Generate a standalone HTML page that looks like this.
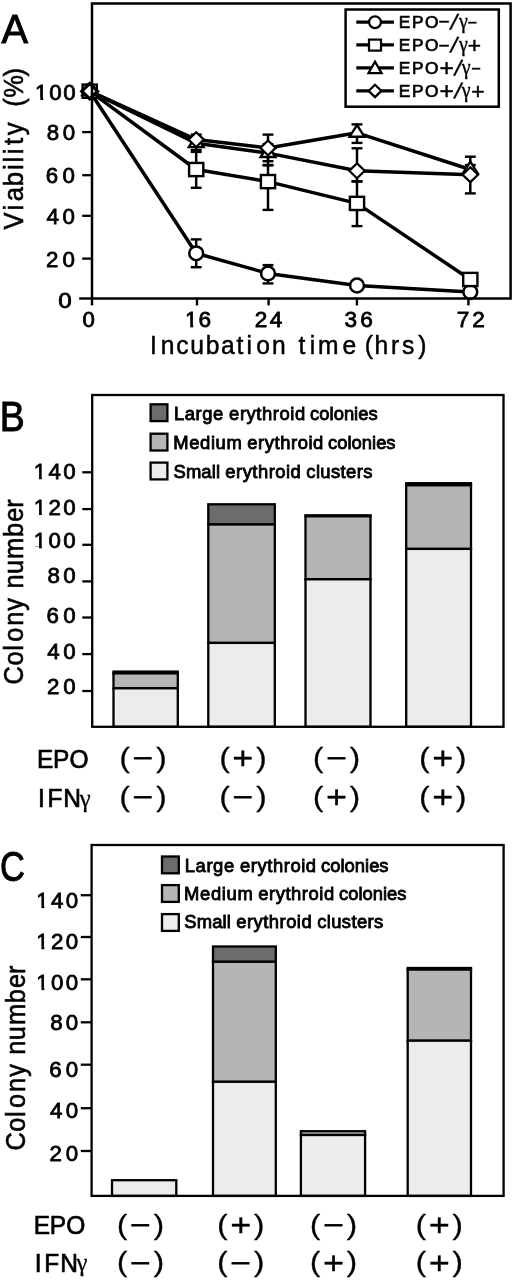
<!DOCTYPE html>
<html lang="en"><head><meta charset="utf-8"><title>Figure</title>
<style>
html,body{margin:0;padding:0;background:#fff;}
body{width:514px;height:1280px;overflow:hidden;}
svg{display:block;font-family:"Liberation Sans", sans-serif;fill:#000;font-kerning:none;}
text{white-space:pre;}
</style></head><body>
<svg width="514" height="1280" viewBox="0 0 514 1280">
<rect x="0" y="0" width="514" height="1280" fill="#fff" stroke="none"/>
<defs><clipPath id="c22_3"><rect x="1.09" y="-16.33" width="6.97" height="14.16"/><rect x="5.34" y="-2.23" width="2.72" height="2.61"/><rect x="12.69" y="-16.33" width="300" height="18.51"/></clipPath><clipPath id="c22_6"><rect x="1.10" y="-16.55" width="7.06" height="14.35"/><rect x="5.41" y="-2.26" width="2.76" height="2.65"/><rect x="12.86" y="-16.55" width="300" height="18.76"/></clipPath></defs>
<g id="panelA">
<line x1="82.2" y1="91.3" x2="92.0" y2="91.3" stroke="#000" stroke-width="2.3"/>
<line x1="82.2" y1="132.1" x2="92.0" y2="132.1" stroke="#000" stroke-width="2.3"/>
<line x1="82.2" y1="175.2" x2="92.0" y2="175.2" stroke="#000" stroke-width="2.3"/>
<line x1="82.2" y1="215.8" x2="92.0" y2="215.8" stroke="#000" stroke-width="2.3"/>
<line x1="82.2" y1="258.6" x2="92.0" y2="258.6" stroke="#000" stroke-width="2.3"/>
<polyline points="89.7,91.2 196.2,253.3 268.0,273.4 357.0,285.5 470.3,292.1" fill="none" stroke="#000" stroke-width="3.5" stroke-linejoin="round"/>
<polyline points="89.7,91.2 196.2,169.5 268.0,181.6 357.0,203.4 470.3,279.5" fill="none" stroke="#000" stroke-width="3.5" stroke-linejoin="round"/>
<polyline points="89.7,91.2 196.2,139.6 268.0,147.9 357.0,132.8 470.3,169.5" fill="none" stroke="#000" stroke-width="3.5" stroke-linejoin="round"/>
<polyline points="89.7,91.2 196.2,143.2 268.0,153.1 357.0,170.8 470.3,174.7" fill="none" stroke="#000" stroke-width="3.5" stroke-linejoin="round"/>
<line x1="196.2" y1="239.4" x2="196.2" y2="267.2" stroke="#000" stroke-width="2.5"/>
<line x1="190.75" y1="239.4" x2="201.64999999999998" y2="239.4" stroke="#000" stroke-width="2.4"/>
<line x1="190.75" y1="267.2" x2="201.64999999999998" y2="267.2" stroke="#000" stroke-width="2.4"/>
<line x1="268.0" y1="265.1" x2="268.0" y2="283.4" stroke="#000" stroke-width="2.5"/>
<line x1="262.55" y1="265.1" x2="273.45" y2="265.1" stroke="#000" stroke-width="2.4"/>
<line x1="262.55" y1="283.4" x2="273.45" y2="283.4" stroke="#000" stroke-width="2.4"/>
<line x1="196.2" y1="151.9" x2="196.2" y2="187.8" stroke="#000" stroke-width="2.5"/>
<line x1="190.75" y1="151.9" x2="201.64999999999998" y2="151.9" stroke="#000" stroke-width="2.4"/>
<line x1="190.75" y1="187.8" x2="201.64999999999998" y2="187.8" stroke="#000" stroke-width="2.4"/>
<line x1="268.0" y1="165.0" x2="268.0" y2="209.9" stroke="#000" stroke-width="2.5"/>
<line x1="262.55" y1="165.0" x2="273.45" y2="165.0" stroke="#000" stroke-width="2.4"/>
<line x1="262.55" y1="209.9" x2="273.45" y2="209.9" stroke="#000" stroke-width="2.4"/>
<line x1="357.0" y1="181.6" x2="357.0" y2="226.1" stroke="#000" stroke-width="2.5"/>
<line x1="351.55" y1="181.6" x2="362.45" y2="181.6" stroke="#000" stroke-width="2.4"/>
<line x1="351.55" y1="226.1" x2="362.45" y2="226.1" stroke="#000" stroke-width="2.4"/>
<line x1="196.2" y1="142.7" x2="196.2" y2="150.0" stroke="#000" stroke-width="2.5"/>
<line x1="190.75" y1="142.7" x2="201.64999999999998" y2="142.7" stroke="#000" stroke-width="2.4"/>
<line x1="190.75" y1="150.0" x2="201.64999999999998" y2="150.0" stroke="#000" stroke-width="2.4"/>
<line x1="268.0" y1="144.2" x2="268.0" y2="165.4" stroke="#000" stroke-width="2.5"/>
<line x1="262.55" y1="144.2" x2="273.45" y2="144.2" stroke="#000" stroke-width="2.4"/>
<line x1="262.55" y1="165.4" x2="273.45" y2="165.4" stroke="#000" stroke-width="2.4"/>
<line x1="357.0" y1="124.4" x2="357.0" y2="142.9" stroke="#000" stroke-width="2.5"/>
<line x1="351.55" y1="124.4" x2="362.45" y2="124.4" stroke="#000" stroke-width="2.4"/>
<line x1="351.55" y1="142.9" x2="362.45" y2="142.9" stroke="#000" stroke-width="2.4"/>
<line x1="470.3" y1="165.0" x2="470.3" y2="176.0" stroke="#000" stroke-width="2.5"/>
<line x1="464.85" y1="165.0" x2="475.75" y2="165.0" stroke="#000" stroke-width="2.4"/>
<line x1="464.85" y1="176.0" x2="475.75" y2="176.0" stroke="#000" stroke-width="2.4"/>
<line x1="196.2" y1="134.6" x2="196.2" y2="145.0" stroke="#000" stroke-width="2.5"/>
<line x1="190.75" y1="134.6" x2="201.64999999999998" y2="134.6" stroke="#000" stroke-width="2.4"/>
<line x1="190.75" y1="145.0" x2="201.64999999999998" y2="145.0" stroke="#000" stroke-width="2.4"/>
<line x1="268.0" y1="134.6" x2="268.0" y2="161.2" stroke="#000" stroke-width="2.5"/>
<line x1="262.55" y1="134.6" x2="273.45" y2="134.6" stroke="#000" stroke-width="2.4"/>
<line x1="262.55" y1="161.2" x2="273.45" y2="161.2" stroke="#000" stroke-width="2.4"/>
<line x1="357.0" y1="148.3" x2="357.0" y2="181.2" stroke="#000" stroke-width="2.5"/>
<line x1="351.55" y1="148.3" x2="362.45" y2="148.3" stroke="#000" stroke-width="2.4"/>
<line x1="351.55" y1="181.2" x2="362.45" y2="181.2" stroke="#000" stroke-width="2.4"/>
<line x1="470.3" y1="156.7" x2="470.3" y2="193.4" stroke="#000" stroke-width="2.5"/>
<line x1="464.85" y1="156.7" x2="475.75" y2="156.7" stroke="#000" stroke-width="2.4"/>
<line x1="464.85" y1="193.4" x2="475.75" y2="193.4" stroke="#000" stroke-width="2.4"/>
<circle cx="89.7" cy="91.2" r="6.9" fill="#fff" stroke="#000" stroke-width="2.5"/>
<circle cx="196.2" cy="253.3" r="6.9" fill="#fff" stroke="#000" stroke-width="2.5"/>
<circle cx="268.0" cy="273.4" r="6.9" fill="#fff" stroke="#000" stroke-width="2.5"/>
<circle cx="357.0" cy="285.5" r="6.9" fill="#fff" stroke="#000" stroke-width="2.5"/>
<circle cx="470.3" cy="292.1" r="6.9" fill="#fff" stroke="#000" stroke-width="2.5"/>
<rect x="82.60" y="84.60" width="14.2" height="13.2" fill="#fff" stroke="#000" stroke-width="2.4"/>
<rect x="189.10" y="162.94" width="14.2" height="13.2" fill="#fff" stroke="#000" stroke-width="2.4"/>
<rect x="260.90" y="174.99" width="14.2" height="13.2" fill="#fff" stroke="#000" stroke-width="2.4"/>
<rect x="349.90" y="196.81" width="14.2" height="13.2" fill="#fff" stroke="#000" stroke-width="2.4"/>
<rect x="463.20" y="272.87" width="14.2" height="13.2" fill="#fff" stroke="#000" stroke-width="2.4"/>
<path d="M89.7 83.4 L97.1 95.1 L82.3 95.1 Z" fill="#fff" stroke="#000" stroke-width="2.4"/>
<path d="M196.2 135.3 L203.6 147.1 L188.8 147.1 Z" fill="#fff" stroke="#000" stroke-width="2.4"/>
<path d="M268.0 145.3 L275.4 157.0 L260.6 157.0 Z" fill="#fff" stroke="#000" stroke-width="2.4"/>
<path d="M357.0 125.0 L364.4 136.7 L349.6 136.7 Z" fill="#fff" stroke="#000" stroke-width="2.4"/>
<path d="M470.3 161.7 L477.7 173.4 L462.9 173.4 Z" fill="#fff" stroke="#000" stroke-width="2.4"/>
<path d="M89.7 83.8 L97.4 91.2 L89.7 98.6 L82.0 91.2 Z" fill="#fff" stroke="#000" stroke-width="2.2"/>
<path d="M196.2 132.2 L203.9 139.6 L196.2 147.0 L188.5 139.6 Z" fill="#fff" stroke="#000" stroke-width="2.2"/>
<path d="M268.0 140.5 L275.7 147.9 L268.0 155.3 L260.3 147.9 Z" fill="#fff" stroke="#000" stroke-width="2.2"/>
<path d="M357.0 163.4 L364.7 170.8 L357.0 178.2 L349.3 170.8 Z" fill="#fff" stroke="#000" stroke-width="2.2"/>
<path d="M470.3 167.3 L478.0 174.7 L470.3 182.1 L462.6 174.7 Z" fill="#fff" stroke="#000" stroke-width="2.2"/>
<path d="M89.7 83.6 L97.6 91.2 L89.7 98.8 L81.8 91.2 Z" fill="#fff" stroke="#000" stroke-width="3.2"/>
<rect x="92.00" y="3.50" width="418.60" height="295.00" fill="none" stroke="#000" stroke-width="2.5"/>
<text transform="translate(35.10,99.5) scale(1.000,1)" font-size="22.3" letter-spacing="1.63" clip-path="url(#c22_3)" stroke="#000" stroke-width="0.8">100</text>
<text transform="translate(46.63,140.1) scale(1.000,1)" font-size="22.3" letter-spacing="3.84" stroke="#000" stroke-width="0.8">80</text>
<text transform="translate(45.87,183.2) scale(1.000,1)" font-size="22.3" letter-spacing="4.20" stroke="#000" stroke-width="0.8">60</text>
<text transform="translate(46.49,223.7) scale(1.000,1)" font-size="22.3" letter-spacing="3.58" stroke="#000" stroke-width="0.8">40</text>
<text transform="translate(45.88,266.5) scale(1.000,1)" font-size="22.3" letter-spacing="4.19" stroke="#000" stroke-width="0.8">20</text>
<text transform="translate(58.35,307.7) scale(1.088,1)" font-size="22.3" letter-spacing="0.00" stroke="#000" stroke-width="0.8">0</text>
<line x1="79.2" y1="298.5" x2="92.0" y2="298.5" stroke="#000" stroke-width="2.4"/>
<line x1="92.0" y1="298.5" x2="92.0" y2="305.4" stroke="#000" stroke-width="2.4"/>
<line x1="197.0" y1="298.5" x2="197.0" y2="305.4" stroke="#000" stroke-width="2.4"/>
<line x1="268.6" y1="298.5" x2="268.6" y2="305.4" stroke="#000" stroke-width="2.4"/>
<line x1="356.9" y1="298.5" x2="356.9" y2="305.4" stroke="#000" stroke-width="2.4"/>
<line x1="468.4" y1="298.5" x2="468.4" y2="305.4" stroke="#000" stroke-width="2.4"/>
<text transform="translate(82.43,327.3) scale(0.981,1)" font-size="22.6" letter-spacing="0.00" stroke="#000" stroke-width="0.8">0</text>
<text transform="translate(184.98,327.3) scale(1.000,1)" font-size="22.6" letter-spacing="0.88" clip-path="url(#c22_6)" stroke="#000" stroke-width="0.8">16</text>
<text transform="translate(254.66,327.3) scale(1.000,1)" font-size="22.6" letter-spacing="2.46" stroke="#000" stroke-width="0.8">24</text>
<text transform="translate(344.54,327.3) scale(1.000,1)" font-size="22.6" letter-spacing="3.12" stroke="#000" stroke-width="0.8">36</text>
<text transform="translate(456.84,327.3) scale(1.000,1)" font-size="22.6" letter-spacing="2.96" stroke="#000" stroke-width="0.8">72</text>
<text transform="translate(151.80,353.7) scale(0.930,1)" font-size="26.5" x="-2.01 9.75 26.32 41.40 57.97 74.54 91.11 101.79 112.33 129.35 143.37 157.67 169.97 178.67 205.15 219.71 228.93 239.35 257.13 269.00 286.44" y="0" stroke="#000" stroke-width="0.5">Incubation time (hrs)</text>
<text transform="translate(22.8,230.20) rotate(-90) scale(0.930,1)" font-size="27.5" x="0.67 21.25 31.12 47.31 64.69 72.85 81.74 91.50 102.10 117.34 132.71 142.51 165.39" y="0" stroke="#000" stroke-width="0.6">Viability (%)</text>
<text transform="translate(1.52,42.80) scale(0.995,1.028)" font-size="40" stroke="#000" stroke-width="0.9">A</text>
<rect x="345.60" y="9.50" width="153.20" height="97.20" fill="#fff" stroke="#000" stroke-width="2.5"/>
<line x1="356.3" y1="22.2" x2="393.9" y2="22.2" stroke="#000" stroke-width="3.3"/>
<circle cx="375" cy="22.2" r="5.9" fill="#fff" stroke="#000" stroke-width="2.2"/>
<text font-size="17.3" stroke="#000" stroke-width="0.7" x="398.78 411.88 424.97" y="28.0">EPO<tspan font-size="19.0" x="438.46" y="28.40" stroke-width="0.5">−</tspan><tspan font-size="23.4" rotate="12" x="449.20" y="29.20" stroke-width="0.35">/</tspan><tspan font-family="'Liberation Serif', serif" font-size="20.0" x="459.03" y="27.74" stroke-width="0.35">γ</tspan><tspan font-size="16.2" x="467.60" y="28.40" stroke-width="0.5">−</tspan></text>
<line x1="356.3" y1="44.9" x2="393.9" y2="44.9" stroke="#000" stroke-width="3.3"/>
<rect x="369" y="39.6" width="12" height="11" fill="#fff" stroke="#000" stroke-width="2.2"/>
<text font-size="17.3" stroke="#000" stroke-width="0.7" x="398.78 411.88 424.97" y="51.1">EPO<tspan font-size="19.0" x="438.46" y="51.50" stroke-width="0.5">−</tspan><tspan font-size="23.4" rotate="12" x="449.20" y="52.30" stroke-width="0.35">/</tspan><tspan font-family="'Liberation Serif', serif" font-size="20.0" x="459.03" y="50.84" stroke-width="0.35">γ</tspan><tspan font-size="22.8" x="467.69" y="53.20" stroke-width="0.45">+</tspan></text>
<line x1="356.3" y1="67.8" x2="393.9" y2="67.8" stroke="#000" stroke-width="3.3"/>
<path d="M375 61.6 L381.6 73.2 L368.4 73.2 Z" fill="#fff" stroke="#000" stroke-width="2.2"/>
<text font-size="17.3" stroke="#000" stroke-width="0.7" x="398.78 411.88 424.97" y="74.0">EPO<tspan font-size="24.5" x="439.40" y="76.10" stroke-width="0.45">+</tspan><tspan font-size="23.4" rotate="12" x="453.20" y="75.20" stroke-width="0.35">/</tspan><tspan font-family="'Liberation Serif', serif" font-size="20.0" x="461.63" y="73.74" stroke-width="0.35">γ</tspan><tspan font-size="16.2" x="471.20" y="74.40" stroke-width="0.5">−</tspan></text>
<line x1="356.3" y1="90.9" x2="393.9" y2="90.9" stroke="#000" stroke-width="3.3"/>
<path d="M375 84.7 L381.4 90.9 L375 97.1 L368.6 90.9 Z" fill="#fff" stroke="#000" stroke-width="2.2"/>
<text font-size="17.3" stroke="#000" stroke-width="0.7" x="398.78 411.88 424.97" y="96.8">EPO<tspan font-size="24.5" x="439.40" y="98.90" stroke-width="0.45">+</tspan><tspan font-size="23.4" rotate="12" x="453.20" y="98.00" stroke-width="0.35">/</tspan><tspan font-family="'Liberation Serif', serif" font-size="20.0" x="461.63" y="96.54" stroke-width="0.35">γ</tspan><tspan font-size="22.8" x="471.29" y="98.90" stroke-width="0.45">+</tspan></text>
</g>
<g id="panelB">
<rect x="113.50" y="671.60" width="64.30" height="1.80" fill="#000" stroke="#000" stroke-width="2.3"/>
<rect x="113.50" y="673.40" width="64.30" height="14.90" fill="#b5b5b5" stroke="#000" stroke-width="2.3"/>
<rect x="113.50" y="688.30" width="64.30" height="38.50" fill="#ececec" stroke="#000" stroke-width="2.3"/>
<rect x="208.30" y="504.30" width="66.50" height="20.20" fill="#6c6c6c" stroke="#000" stroke-width="2.3"/>
<rect x="208.30" y="524.50" width="66.50" height="118.40" fill="#b5b5b5" stroke="#000" stroke-width="2.3"/>
<rect x="208.30" y="642.90" width="66.50" height="83.90" fill="#ececec" stroke="#000" stroke-width="2.3"/>
<rect x="305.50" y="515.30" width="65.00" height="1.00" fill="#000" stroke="#000" stroke-width="2.3"/>
<rect x="305.50" y="516.30" width="65.00" height="63.00" fill="#b5b5b5" stroke="#000" stroke-width="2.3"/>
<rect x="305.50" y="579.30" width="65.00" height="147.50" fill="#ececec" stroke="#000" stroke-width="2.3"/>
<rect x="406.20" y="483.20" width="64.80" height="2.10" fill="#000" stroke="#000" stroke-width="2.3"/>
<rect x="406.20" y="485.30" width="64.80" height="63.60" fill="#b5b5b5" stroke="#000" stroke-width="2.3"/>
<rect x="406.20" y="548.90" width="64.80" height="177.90" fill="#ececec" stroke="#000" stroke-width="2.3"/>
<rect x="92.20" y="395.00" width="411.30" height="331.80" fill="none" stroke="#000" stroke-width="2.3"/>
<line x1="82.3" y1="472.3" x2="92.2" y2="472.3" stroke="#000" stroke-width="2.3"/>
<line x1="82.3" y1="509.1" x2="92.2" y2="509.1" stroke="#000" stroke-width="2.3"/>
<line x1="82.3" y1="544.8" x2="92.2" y2="544.8" stroke="#000" stroke-width="2.3"/>
<line x1="82.3" y1="581.4" x2="92.2" y2="581.4" stroke="#000" stroke-width="2.3"/>
<line x1="82.3" y1="617.5" x2="92.2" y2="617.5" stroke="#000" stroke-width="2.3"/>
<line x1="82.3" y1="654.1" x2="92.2" y2="654.1" stroke="#000" stroke-width="2.3"/>
<line x1="82.3" y1="691.0" x2="92.2" y2="691.0" stroke="#000" stroke-width="2.3"/>
<text transform="translate(33.70,479.2) scale(1.000,1)" font-size="22.3" letter-spacing="2.33" clip-path="url(#c22_3)" stroke="#000" stroke-width="0.8">140</text>
<text transform="translate(33.70,514.7) scale(1.000,1)" font-size="22.3" letter-spacing="2.33" clip-path="url(#c22_3)" stroke="#000" stroke-width="0.8">120</text>
<text transform="translate(33.70,548.4) scale(1.000,1)" font-size="22.3" letter-spacing="2.33" clip-path="url(#c22_3)" stroke="#000" stroke-width="0.8">100</text>
<text transform="translate(47.43,583.1) scale(1.000,1)" font-size="22.3" letter-spacing="3.34" stroke="#000" stroke-width="0.8">80</text>
<text transform="translate(46.57,623.4) scale(1.000,1)" font-size="22.3" letter-spacing="4.20" stroke="#000" stroke-width="0.8">60</text>
<text transform="translate(47.19,658.8) scale(1.000,1)" font-size="22.3" letter-spacing="3.58" stroke="#000" stroke-width="0.8">40</text>
<text transform="translate(46.98,694.3) scale(1.000,1)" font-size="22.3" letter-spacing="3.79" stroke="#000" stroke-width="0.8">20</text>
<rect x="150.60" y="404.30" width="16.80" height="16.80" fill="#6c6c6c" stroke="#000" stroke-width="2.3"/>
<text transform="translate(175.40,420.3) scale(1.000,1)" font-size="18.4" x="-1.51 9.29 20.09 26.78 37.58 48.00 53.72 64.51 71.20 80.96 86.63 97.42 104.11 114.90 119.55 129.60 134.72 143.92 154.16 158.26 168.49 178.73 182.83 193.06" y="0" stroke="#000" stroke-width="0.85">Large erythroid colonies</text>
<rect x="150.60" y="433.70" width="16.80" height="16.80" fill="#b5b5b5" stroke="#000" stroke-width="2.3"/>
<text transform="translate(174.70,449.2) scale(1.000,1)" font-size="18.4" x="-1.51 14.45 25.32 36.19 40.92 51.79 66.90 72.62 83.40 90.07 99.82 105.48 116.26 122.94 133.72 138.35 148.40 153.42 162.61 172.83 176.91 187.14 197.36 201.44 211.66" y="0" stroke="#000" stroke-width="0.85">Medium erythroid colonies</text>
<rect x="150.60" y="462.60" width="16.80" height="16.80" fill="#ececec" stroke="#000" stroke-width="2.3"/>
<text transform="translate(174.30,477.9) scale(1.000,1)" font-size="18.4" x="-0.84 11.58 27.04 37.42 41.64 45.50 51.02 61.74 68.35 78.03 83.63 94.35 100.96 111.68 116.25 126.30 132.02 141.60 146.06 156.68 166.26 171.75 182.36 188.86" y="0" stroke="#000" stroke-width="0.85">Small erythroid clusters</text>
<text transform="translate(39.50,767.9) scale(0.950,1)" font-size="25.8" x="-2.63 14.23 31.45" y="0" stroke="#000" stroke-width="0.7">EPO</text>
<text transform="translate(39.80,807.4) scale(0.950,1)" font-size="25.8" x="-1.95 8.00 24.78" y="0" stroke="#000" stroke-width="0.7">IFN<tspan font-family="'Liberation Serif', serif" font-size="26.0" x="42.05" y="-0.04" stroke-width="0.3">γ</tspan></text>
<text transform="translate(121.40,766.83) scale(1.13,1)" font-size="27.4" stroke="#000" stroke-width="0.35" x="-1.70" y="0">(<tspan font-size="32.0" x="9.67" y="2.26" stroke-width="0.25">−</tspan><tspan x="30.80" y="0">)</tspan></text>
<text transform="translate(221.40,766.83) scale(1.13,1)" font-size="27.4" stroke="#000" stroke-width="0.35" x="-1.70" y="0">(<tspan font-size="32.0" x="9.69" y="2.26" stroke-width="0.25">+</tspan><tspan x="30.80" y="0">)</tspan></text>
<text transform="translate(315.00,766.83) scale(1.13,1)" font-size="27.4" stroke="#000" stroke-width="0.35" x="-1.70" y="0">(<tspan font-size="32.0" x="9.67" y="2.26" stroke-width="0.25">−</tspan><tspan x="30.80" y="0">)</tspan></text>
<text transform="translate(421.20,766.83) scale(1.13,1)" font-size="27.4" stroke="#000" stroke-width="0.35" x="-1.70" y="0">(<tspan font-size="32.0" x="9.69" y="2.26" stroke-width="0.25">+</tspan><tspan x="30.80" y="0">)</tspan></text>
<text transform="translate(121.40,805.83) scale(1.13,1)" font-size="27.4" stroke="#000" stroke-width="0.35" x="-1.70" y="0">(<tspan font-size="32.0" x="9.67" y="2.26" stroke-width="0.25">−</tspan><tspan x="30.80" y="0">)</tspan></text>
<text transform="translate(221.40,805.83) scale(1.13,1)" font-size="27.4" stroke="#000" stroke-width="0.35" x="-1.70" y="0">(<tspan font-size="32.0" x="9.67" y="2.26" stroke-width="0.25">−</tspan><tspan x="30.80" y="0">)</tspan></text>
<text transform="translate(315.00,805.83) scale(1.13,1)" font-size="27.4" stroke="#000" stroke-width="0.35" x="-1.70" y="0">(<tspan font-size="32.0" x="9.69" y="2.26" stroke-width="0.25">+</tspan><tspan x="30.80" y="0">)</tspan></text>
<text transform="translate(421.20,805.83) scale(1.13,1)" font-size="27.4" stroke="#000" stroke-width="0.35" x="-1.70" y="0">(<tspan font-size="32.0" x="9.69" y="2.26" stroke-width="0.25">+</tspan><tspan x="30.80" y="0">)</tspan></text>
<text transform="translate(22.8,683.10) rotate(-90) scale(0.920,1)" font-size="27.5" x="-1.41 19.20 35.04 44.85 62.22 78.77 93.72 102.82 118.57 135.01 158.84 175.31 190.50" y="0" stroke="#000" stroke-width="0.6">Colony number</text>
<text transform="translate(-0.17,430.70) scale(0.912,1.017)" font-size="41" stroke="#000" stroke-width="0.9">B</text>
</g>
<g id="panelC">
<rect x="112.00" y="1180.20" width="64.30" height="15.70" fill="#ececec" stroke="#000" stroke-width="2.3"/>
<rect x="213.00" y="946.50" width="62.80" height="15.30" fill="#6c6c6c" stroke="#000" stroke-width="2.3"/>
<rect x="213.00" y="961.80" width="62.80" height="120.00" fill="#b5b5b5" stroke="#000" stroke-width="2.3"/>
<rect x="213.00" y="1081.80" width="62.80" height="114.10" fill="#ececec" stroke="#000" stroke-width="2.3"/>
<rect x="300.90" y="1131.20" width="64.20" height="3.80" fill="#b5b5b5" stroke="#000" stroke-width="2.3"/>
<rect x="300.90" y="1135.00" width="64.20" height="60.90" fill="#ececec" stroke="#000" stroke-width="2.3"/>
<rect x="407.70" y="968.00" width="63.30" height="1.60" fill="#000" stroke="#000" stroke-width="2.3"/>
<rect x="407.70" y="969.60" width="63.30" height="71.10" fill="#b5b5b5" stroke="#000" stroke-width="2.3"/>
<rect x="407.70" y="1040.70" width="63.30" height="155.20" fill="#ececec" stroke="#000" stroke-width="2.3"/>
<rect x="91.60" y="845.00" width="412.00" height="350.90" fill="none" stroke="#000" stroke-width="2.3"/>
<line x1="80.8" y1="895.2" x2="91.6" y2="895.2" stroke="#000" stroke-width="2.3"/>
<line x1="80.8" y1="937.0" x2="91.6" y2="937.0" stroke="#000" stroke-width="2.3"/>
<line x1="80.8" y1="979.3" x2="91.6" y2="979.3" stroke="#000" stroke-width="2.3"/>
<line x1="80.8" y1="1022.3" x2="91.6" y2="1022.3" stroke="#000" stroke-width="2.3"/>
<line x1="80.8" y1="1064.7" x2="91.6" y2="1064.7" stroke="#000" stroke-width="2.3"/>
<line x1="80.8" y1="1108.2" x2="91.6" y2="1108.2" stroke="#000" stroke-width="2.3"/>
<line x1="80.8" y1="1151.0" x2="91.6" y2="1151.0" stroke="#000" stroke-width="2.3"/>
<text transform="translate(36.20,907.9) scale(1.000,1)" font-size="22.3" letter-spacing="2.43" clip-path="url(#c22_3)" stroke="#000" stroke-width="0.8">140</text>
<text transform="translate(36.20,949.0) scale(1.000,1)" font-size="22.3" letter-spacing="2.43" clip-path="url(#c22_3)" stroke="#000" stroke-width="0.8">120</text>
<text transform="translate(36.20,989.8) scale(1.000,1)" font-size="22.3" letter-spacing="2.43" clip-path="url(#c22_3)" stroke="#000" stroke-width="0.8">100</text>
<text transform="translate(50.13,1030.4) scale(1.000,1)" font-size="22.3" letter-spacing="3.34" stroke="#000" stroke-width="0.8">80</text>
<text transform="translate(49.27,1076.6) scale(1.000,1)" font-size="22.3" letter-spacing="4.20" stroke="#000" stroke-width="0.8">60</text>
<text transform="translate(49.89,1118.1) scale(1.000,1)" font-size="22.3" letter-spacing="3.58" stroke="#000" stroke-width="0.8">40</text>
<text transform="translate(49.58,1160.6) scale(1.000,1)" font-size="22.3" letter-spacing="3.89" stroke="#000" stroke-width="0.8">20</text>
<rect x="162.00" y="856.50" width="16.80" height="16.80" fill="#6c6c6c" stroke="#000" stroke-width="2.3"/>
<text transform="translate(186.30,871.9) scale(1.000,1)" font-size="18.4" x="-1.51 9.29 20.09 26.78 37.58 48.00 53.72 64.51 71.20 80.96 86.63 97.42 104.11 114.90 119.55 129.60 134.72 143.92 154.16 158.26 168.49 178.73 182.83 193.06" y="0" stroke="#000" stroke-width="0.85">Large erythroid colonies</text>
<rect x="162.00" y="885.10" width="16.80" height="16.80" fill="#b5b5b5" stroke="#000" stroke-width="2.3"/>
<text transform="translate(185.60,899.8) scale(1.000,1)" font-size="18.4" x="-1.51 14.45 25.32 36.19 40.92 51.79 66.90 72.62 83.40 90.07 99.82 105.48 116.26 122.94 133.72 138.35 148.40 153.42 162.61 172.83 176.91 187.14 197.36 201.44 211.66" y="0" stroke="#000" stroke-width="0.85">Medium erythroid colonies</text>
<rect x="162.00" y="914.10" width="16.80" height="16.80" fill="#ececec" stroke="#000" stroke-width="2.3"/>
<text transform="translate(185.20,928.4) scale(1.000,1)" font-size="18.4" x="-0.84 11.58 27.04 37.42 41.64 45.50 51.02 61.74 68.35 78.03 83.63 94.35 100.96 111.68 116.25 126.30 132.02 141.60 146.06 156.68 166.26 171.75 182.36 188.86" y="0" stroke="#000" stroke-width="0.85">Small erythroid clusters</text>
<text transform="translate(36.30,1233.8) scale(0.950,1)" font-size="25.8" x="-2.63 14.23 31.45" y="0" stroke="#000" stroke-width="0.7">EPO</text>
<text transform="translate(36.60,1271.5) scale(0.950,1)" font-size="25.8" x="-1.95 8.00 24.78" y="0" stroke="#000" stroke-width="0.7">IFN<tspan font-family="'Liberation Serif', serif" font-size="26.0" x="42.05" y="-0.04" stroke-width="0.3">γ</tspan></text>
<text transform="translate(118.90,1234.08) scale(1.13,1)" font-size="27.4" stroke="#000" stroke-width="0.35" x="-1.70" y="0">(<tspan font-size="32.0" x="9.67" y="2.26" stroke-width="0.25">−</tspan><tspan x="30.80" y="0">)</tspan></text>
<text transform="translate(219.20,1234.08) scale(1.13,1)" font-size="27.4" stroke="#000" stroke-width="0.35" x="-1.70" y="0">(<tspan font-size="32.0" x="9.69" y="2.26" stroke-width="0.25">+</tspan><tspan x="30.80" y="0">)</tspan></text>
<text transform="translate(312.00,1234.08) scale(1.13,1)" font-size="27.4" stroke="#000" stroke-width="0.35" x="-1.70" y="0">(<tspan font-size="32.0" x="9.67" y="2.26" stroke-width="0.25">−</tspan><tspan x="30.80" y="0">)</tspan></text>
<text transform="translate(417.70,1234.08) scale(1.13,1)" font-size="27.4" stroke="#000" stroke-width="0.35" x="-1.70" y="0">(<tspan font-size="32.0" x="9.69" y="2.26" stroke-width="0.25">+</tspan><tspan x="30.80" y="0">)</tspan></text>
<text transform="translate(118.90,1271.48) scale(1.13,1)" font-size="27.4" stroke="#000" stroke-width="0.35" x="-1.70" y="0">(<tspan font-size="32.0" x="9.67" y="2.26" stroke-width="0.25">−</tspan><tspan x="30.80" y="0">)</tspan></text>
<text transform="translate(219.20,1271.48) scale(1.13,1)" font-size="27.4" stroke="#000" stroke-width="0.35" x="-1.70" y="0">(<tspan font-size="32.0" x="9.67" y="2.26" stroke-width="0.25">−</tspan><tspan x="30.80" y="0">)</tspan></text>
<text transform="translate(312.00,1271.48) scale(1.13,1)" font-size="27.4" stroke="#000" stroke-width="0.35" x="-1.70" y="0">(<tspan font-size="32.0" x="9.69" y="2.26" stroke-width="0.25">+</tspan><tspan x="30.80" y="0">)</tspan></text>
<text transform="translate(417.70,1271.48) scale(1.13,1)" font-size="27.4" stroke="#000" stroke-width="0.35" x="-1.70" y="0">(<tspan font-size="32.0" x="9.69" y="2.26" stroke-width="0.25">+</tspan><tspan x="30.80" y="0">)</tspan></text>
<text transform="translate(24.8,1149.30) rotate(-90) scale(0.920,1)" font-size="27.5" x="-1.41 19.20 35.04 44.85 62.22 78.77 93.72 102.82 118.57 135.01 158.84 175.31 190.50" y="0" stroke="#000" stroke-width="0.6">Colony number</text>
<text transform="translate(0.05,881.28) scale(0.820,1.016)" font-size="42" stroke="#000" stroke-width="0.9">C</text>
</g>
</svg>
</body></html>
